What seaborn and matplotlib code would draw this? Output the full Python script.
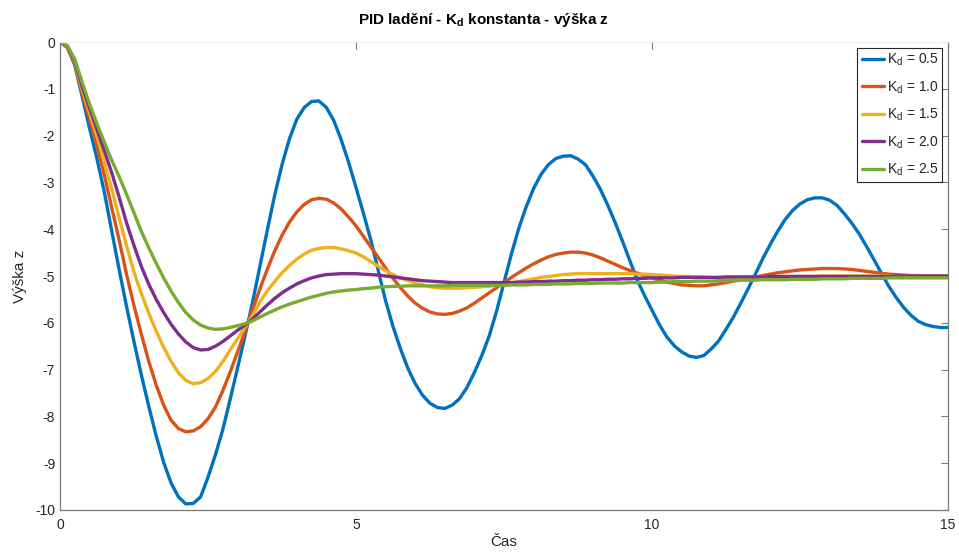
import matplotlib
matplotlib.use('Agg')
import matplotlib.pyplot as plt
import numpy as np
import pandas as pd
import seaborn as sns

# Values, time step 0.125 s (10 values per row)
time = np.linspace(0, 15, 121)

kd_labels = ['K$_d$ = 0.5', 'K$_d$ = 1.0', 'K$_d$ = 1.5', 'K$_d$ = 2.0', 'K$_d$ = 2.5']
colors = ['#0072BD', '#D95319', '#EDB120', '#7E2F8E', '#77AC30']

z_kd05 = [0, -0.12, -0.50, -1.17, -1.85, -2.50, -3.22, -4.05, -4.87, -5.66,
          -6.41, -7.12, -7.79, -8.42, -8.98, -9.42, -9.72, -9.87, -9.86, -9.72,
          -9.30, -8.82, -8.28, -7.63, -6.96, -6.28, -5.58, -4.80, -4.03, -3.28,
          -2.62, -2.07, -1.65, -1.40, -1.27, -1.26, -1.40, -1.68, -2.09, -2.57,
          -3.11, -3.66, -4.23, -4.88, -5.53, -6.08, -6.55, -6.97, -7.30, -7.55,
          -7.72, -7.81, -7.83, -7.76, -7.62, -7.38, -7.06, -6.70, -6.28, -5.75,
          -5.14, -4.53, -3.98, -3.52, -3.13, -2.83, -2.62, -2.49, -2.44, -2.43,
          -2.50, -2.62, -2.86, -3.14, -3.48, -3.85, -4.25, -4.67, -5.08, -5.42,
          -5.73, -6.04, -6.30, -6.49, -6.62, -6.71, -6.74, -6.70, -6.56, -6.39,
          -6.14, -5.88, -5.58, -5.27, -4.95, -4.62, -4.32, -4.04, -3.79, -3.60,
          -3.46, -3.37, -3.33, -3.33, -3.38, -3.49, -3.67, -3.87, -4.10, -4.37,
          -4.65, -4.94, -5.22, -5.46, -5.67, -5.84, -5.97, -6.04, -6.08, -6.10,
          -6.10]
z_kd10 = [0, -0.11, -0.47, -1.10, -1.65, -2.22, -2.85, -3.55, -4.24, -4.97,
          -5.64, -6.25, -6.83, -7.33, -7.76, -8.08, -8.26, -8.33, -8.31, -8.22,
          -8.05, -7.80, -7.45, -7.05, -6.62, -6.18, -5.73, -5.28, -4.86, -4.47,
          -4.13, -3.85, -3.63, -3.47, -3.37, -3.34, -3.36, -3.44, -3.57, -3.74,
          -3.93, -4.15, -4.38, -4.60, -4.83, -5.05, -5.25, -5.43, -5.58, -5.69,
          -5.77, -5.81, -5.82, -5.80, -5.75, -5.68, -5.58, -5.47, -5.36, -5.25,
          -5.14, -5.03, -4.93, -4.83, -4.74, -4.66, -4.59, -4.54, -4.51, -4.49,
          -4.49, -4.51, -4.55, -4.61, -4.68, -4.75, -4.82, -4.88, -4.94, -4.99,
          -5.04, -5.09, -5.13, -5.16, -5.19, -5.20, -5.21, -5.21, -5.19, -5.17,
          -5.14, -5.11, -5.08, -5.05, -5.02, -4.99, -4.96, -4.93, -4.91, -4.89,
          -4.87, -4.86, -4.85, -4.84, -4.84, -4.84, -4.85, -4.86, -4.88, -4.90,
          -4.92, -4.94, -4.96, -4.97, -4.98, -4.99, -4.99, -5.00, -5.00, -5.00,
          -5.00]
z_kd15 = [0, -0.10, -0.44, -1.03, -1.52, -2.02, -2.57, -3.15, -3.76, -4.36,
          -4.92, -5.38, -5.80, -6.18, -6.52, -6.82, -7.07, -7.23, -7.30, -7.28,
          -7.19, -7.04, -6.83, -6.58, -6.34, -6.10, -5.85, -5.56, -5.32, -5.12,
          -4.93, -4.78, -4.64, -4.53, -4.45, -4.41, -4.39, -4.39, -4.42, -4.46,
          -4.51, -4.59, -4.69, -4.79, -4.89, -4.97, -5.04, -5.10, -5.15, -5.19,
          -5.23, -5.25, -5.26, -5.26, -5.26, -5.25, -5.24, -5.23, -5.22, -5.20,
          -5.18, -5.15, -5.12, -5.09, -5.06, -5.03, -5.01, -4.99, -4.97, -4.96,
          -4.95, -4.95, -4.95, -4.95, -4.95, -4.95, -4.95, -4.95, -4.96, -4.96,
          -4.97, -4.98, -4.99, -5.00, -5.01, -5.01, -5.02, -5.02, -5.03, -5.03,
          -5.03, -5.03, -5.03, -5.02, -5.02, -5.02, -5.02, -5.01, -5.01, -5.01,
          -5.01, -5.01, -5.01, -5.00, -5.00, -5.00, -5.00, -5.00, -5.00, -5.00,
          -5.00, -5.00, -5.00, -5.00, -5.00, -5.00, -5.00, -5.00, -5.00, -5.00,
          -5.00]
z_kd20 = [0, -0.09, -0.41, -0.96, -1.42, -1.87, -2.33, -2.80, -3.32, -3.87,
          -4.35, -4.80, -5.18, -5.50, -5.78, -6.03, -6.24, -6.41, -6.53, -6.58,
          -6.57, -6.50, -6.40, -6.28, -6.16, -6.05, -5.92, -5.77, -5.62, -5.48,
          -5.36, -5.26, -5.17, -5.10, -5.04, -5.00, -4.97, -4.96, -4.95, -4.95,
          -4.95, -4.96, -4.97, -4.98, -5.00, -5.02, -5.04, -5.06, -5.08, -5.10,
          -5.11, -5.12, -5.13, -5.14, -5.14, -5.14, -5.14, -5.14, -5.14, -5.14,
          -5.14, -5.14, -5.13, -5.13, -5.12, -5.12, -5.11, -5.11, -5.10, -5.10,
          -5.09, -5.09, -5.08, -5.08, -5.07, -5.07, -5.06, -5.06, -5.05, -5.05,
          -5.04, -5.04, -5.04, -5.04, -5.03, -5.03, -5.03, -5.03, -5.03, -5.03,
          -5.02, -5.02, -5.02, -5.02, -5.02, -5.02, -5.01, -5.01, -5.01, -5.01,
          -5.01, -5.01, -5.01, -5.01, -5.01, -5.01, -5.01, -5.01, -5.01, -5.01,
          -5.01, -5.01, -5.01, -5.00, -5.00, -5.00, -5.00, -5.00, -5.00, -5.00,
          -5.00]
z_kd25 = [0, -0.08, -0.37, -0.87, -1.33, -1.75, -2.15, -2.53, -2.88, -3.26,
          -3.65, -4.05, -4.40, -4.73, -5.04, -5.32, -5.57, -5.78, -5.94, -6.05,
          -6.11, -6.14, -6.13, -6.10, -6.06, -6.02, -5.96, -5.88, -5.80, -5.73,
          -5.66, -5.60, -5.55, -5.50, -5.45, -5.41, -5.37, -5.34, -5.32, -5.30,
          -5.29, -5.27, -5.26, -5.24, -5.23, -5.22, -5.22, -5.21, -5.21, -5.21,
          -5.21, -5.21, -5.21, -5.20, -5.20, -5.20, -5.20, -5.20, -5.20, -5.20,
          -5.20, -5.19, -5.19, -5.19, -5.18, -5.18, -5.18, -5.17, -5.17, -5.17,
          -5.16, -5.16, -5.16, -5.15, -5.15, -5.15, -5.15, -5.14, -5.14, -5.14,
          -5.14, -5.13, -5.13, -5.12, -5.12, -5.12, -5.11, -5.11, -5.11, -5.10,
          -5.10, -5.10, -5.09, -5.09, -5.09, -5.08, -5.08, -5.08, -5.08, -5.07,
          -5.07, -5.07, -5.07, -5.06, -5.06, -5.06, -5.06, -5.05, -5.05, -5.05,
          -5.05, -5.05, -5.04, -5.04, -5.04, -5.04, -5.04, -5.04, -5.04, -5.04,
          -5.04]

series = [z_kd05, z_kd10, z_kd15, z_kd20, z_kd25]

df = pd.concat(
    [pd.DataFrame({'t': time, 'z': z, 'Kd': lab}) for z, lab in zip(series, kd_labels)],
    ignore_index=True)

sns.set_theme(style='white')
plt.rcParams['font.family'] = ['Liberation Sans', 'DejaVu Sans']
plt.rcParams['mathtext.default'] = 'regular'
plt.rcParams['axes.unicode_minus'] = False

axis_grey = '#7a7a7a'
text_col = '#262626'

fig = plt.figure(figsize=(9.59, 5.55), dpi=100)
ax = fig.add_axes([0.0626, 0.0811, 0.9259, 0.8432])

sns.lineplot(data=df, x='t', y='z', hue='Kd', hue_order=kd_labels, palette=colors,
             linewidth=2.4, errorbar=None, legend=False, ax=ax)

for line, lab in zip(ax.lines, kd_labels):
    line.set_label(lab)
    line.set_solid_capstyle('round')
    line.set_solid_joinstyle('round')

ax.set_xlim(0, 15)
ax.set_ylim(-10, 0)
ax.set_xticks([0, 5, 10, 15])
ax.set_yticks(range(-10, 1))
ax.tick_params(direction='in', length=5, width=0.8, colors=axis_grey,
               labelcolor=text_col, labelsize=10, top=True, right=True,
               labeltop=False, labelright=False)
ax.tick_params(axis='x', pad=6)

for side in ['left', 'bottom', 'right']:
    ax.spines[side].set_color(axis_grey)
    ax.spines[side].set_linewidth(0.9)
ax.spines['top'].set_color('#eeeeee')
ax.spines['top'].set_linewidth(0.8)

ax.set_xlabel('Čas', fontsize=11, color=text_col, labelpad=2)
ax.set_ylabel('Výška z', fontsize=11, color=text_col, labelpad=6)
# the reference title sits a little left of the axes centre
ax.set_title('PID ladění - K$_d$ konstanta - výška z', fontsize=11,
             fontweight='bold', color='black', pad=13, x=0.477)

leg = ax.legend(loc='upper right', fontsize=10, frameon=True, fancybox=False,
                edgecolor='#262626', framealpha=1, borderaxespad=0.4,
                handlelength=1.65, handletextpad=0.15, labelspacing=0.8,
                borderpad=0.3)
leg.get_frame().set_linewidth(0.8)
for text in leg.get_texts():
    text.set_color(text_col)

fig.savefig('out.png', dpi=100)
